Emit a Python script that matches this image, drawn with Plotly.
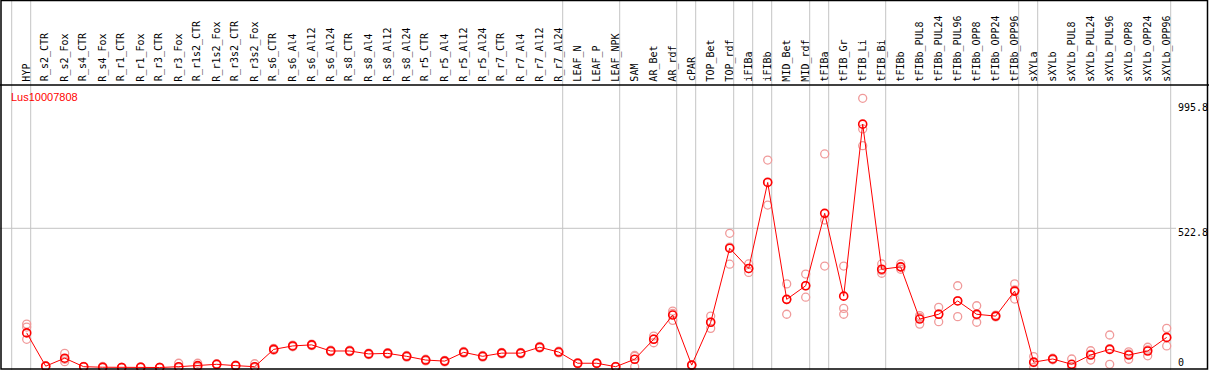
import plotly.graph_objects as go

categories = [
    "HYP", "R_s2_CTR", "R_s2_Fox", "R_s4_CTR", "R_s4_Fox", "R_r1_CTR", "R_r1_Fox",
    "R_r3_CTR", "R_r3_Fox", "R_r1s2_CTR", "R_r1s2_Fox", "R_r3s2_CTR", "R_r3s2_Fox",
    "R_s6_CTR", "R_s6_Al4", "R_s6_Al12", "R_s6_Al24", "R_s8_CTR", "R_s8_Al4",
    "R_s8_Al12", "R_s8_Al24", "R_r5_CTR", "R_r5_Al4", "R_r5_Al12", "R_r5_Al24",
    "R_r7_CTR", "R_r7_Al4", "R_r7_Al12", "R_r7_Al24", "LEAF_N", "LEAF_P", "LEAF_NPK",
    "SAM", "AR_Bet", "AR_rdf", "cPAR", "TOP_Bet", "TOP_rdf", "iFIBa", "iFIBb",
    "MID_Bet", "MID_rdf", "tFIBa", "tFIB_Gr", "tFIB_Li", "tFIB_Bi", "tFIBb",
    "tFIBb_PUL8", "tFIBb_PUL24", "tFIBb_PUL96", "tFIBb_OPP8", "tFIBb_OPP24",
    "tFIBb_OPP96", "sXYLa", "sXYLb", "sXYLb_PUL8", "sXYLb_PUL24", "sXYLb_PUL96",
    "sXYLb_OPP8", "sXYLb_OPP24", "sXYLb_OPP96",
]

# sizes of the tissue groups (separated by grey vertical lines)
group_sizes = [1, 28, 3, 3, 1, 2, 1, 1, 2, 1, 3, 7, 1, 7]

mean_values = [
    130, 5, 35, 3, 1, 0, 1, 0, 3, 7, 12, 7, 3,
    68, 81, 85, 62, 62, 51, 53, 42, 28, 24, 57, 42, 54, 54, 76, 58,
    16, 16, 3, 31, 106, 197, 9, 170, 448, 372, 695, 256, 307,
    579, 268, 914, 369, 378, 182, 200, 250, 200, 193, 287,
    20, 32, 12, 47, 68, 47, 62, 113,
]

rep1 = [
    163, 6, 53, 4, 4, 0, 2, 0, 16, 16, 14, 9, 14,
    72, 84, 88, 65, 65, 54, 56, 45, 31, 27, 60, 45, 57, 57, 79, 61,
    18, 17, 4, 45, 118, 212, 10, 193, 504, 389, 779, 314, 351,
    802, 381, 1011, 389, 389, 195, 226, 307, 232, 197, 314,
    41, 35, 32, 63, 122, 59, 76, 147,
]
rep2 = [
    152, 5, 31, 3, 0, 0, 1, 0, 1, 4, 12, 7, 1,
    68, 81, 85, 62, 62, 51, 53, 42, 28, 24, 57, 42, 54, 54, 76, 58,
    16, 16, 3, 42, 107, 203, 9, 170, 452, 371, 697, 255, 307,
    554, 222, 896, 364, 378, 188, 201, 251, 197, 193, 291,
    18, 32, 4, 50, 71, 51, 66, 112,
]
rep3 = [
    106, 4, 22, 2, 0, 0, 0, 0, 0, 1, 10, 5, 0,
    65, 78, 82, 59, 59, 48, 50, 39, 25, 21, 54, 39, 51, 51, 73, 55,
    14, 15, 2, 3, 93, 177, 8, 147, 388, 357, 610, 200, 264,
    381, 200, 833, 354, 369, 163, 172, 191, 170, 190, 257,
    0, 29, 0, 28, 12, 31, 44, 81,
]

tick_values = [995.8, 522.8, 0]
tick_texts = ["995.8", "522.8", "0"]
gene_name = "Lus10007808"

# ---- layout geometry (pixels) ----
W, H = 1209, 370
X0_PX, STEP_PX = 26.7, 19.0          # pixel of first category, spacing
ZERO_PX, K = 367.5, 139.2 / 522.8     # pixel of value 0, px per unit
HEADER_PX = 85

xr = [-X0_PX / STEP_PX, (W - X0_PX) / STEP_PX]
yr = [(ZERO_PX - H) / K, ZERO_PX / K]


def py(px):  # pixel from top -> paper y
    return 1 - px / H


def pxx(px):  # pixel from left -> paper x
    return px / W


xs = list(range(len(categories)))

fig = go.Figure()

# replicate points
rep_x, rep_y = [], []
for reps in (rep1, rep2, rep3):
    rep_x += xs
    rep_y += reps
fig.add_trace(go.Scatter(
    x=rep_x, y=rep_y, mode="markers",
    marker=dict(symbol="circle-open", size=8, color="#f09a9a", line=dict(width=1.3)),
    hoverinfo="skip", showlegend=False, cliponaxis=False,
))

# mean line
fig.add_trace(go.Scatter(
    x=xs, y=mean_values, mode="lines+markers",
    line=dict(color="#ff0000", width=1),
    marker=dict(symbol="circle-open", size=8, color="#ff0000", line=dict(width=1.6)),
    showlegend=False, cliponaxis=False,
))

shapes = []
grey = "#c4c4c4"
# group separator lines
off = 4 / STEP_PX
bounds = [-1]
acc = -1
for g in group_sizes:
    acc += g
    bounds.append(acc)
for b in bounds:
    shapes.append(dict(type="line", xref="x", yref="paper", x0=b + off, x1=b + off,
                       y0=0, y1=1, line=dict(color=grey, width=1), layer="below"))
# horizontal grid at middle tick
shapes.append(dict(type="line", xref="paper", yref="y", x0=0, x1=pxx(1176),
                   y0=tick_values[1], y1=tick_values[1],
                   line=dict(color=grey, width=1), layer="below"))
# header separator
shapes.append(dict(type="line", xref="paper", yref="paper", x0=0, x1=1,
                   y0=py(HEADER_PX), y1=py(HEADER_PX), line=dict(color="black", width=1.5)))
# frame
shapes.append(dict(type="rect", xref="paper", yref="paper",
                   x0=pxx(1), x1=pxx(1207.5), y0=py(369), y1=py(0.5),
                   line=dict(color="black", width=1.5)))

annotations = []
for i, c in enumerate(categories):
    annotations.append(dict(
        x=i - 0.03, y=py(HEADER_PX - 1.5), xref="x", yref="paper", text=c,
        textangle=-90, xanchor="center", yanchor="bottom", showarrow=False,
        font=dict(family="DejaVu Sans Mono", size=10, color="black"),
    ))

shifts = [-5, -4, 5.5]
for v, t, s in zip(tick_values, tick_texts, shifts):
    annotations.append(dict(
        x=pxx(1176), y=v, xref="paper", yref="y", text=t, yshift=s,
        xanchor="left", yanchor="middle", showarrow=False,
        font=dict(family="DejaVu Sans Mono", size=10, color="black"),
    ))

annotations.append(dict(
    x=pxx(9), y=py(97), xref="paper", yref="paper", text=gene_name,
    xanchor="left", yanchor="middle", showarrow=False,
    font=dict(family="Liberation Sans", size=11, color="#ff0000"),
))

fig.update_layout(
    width=W, height=H, margin=dict(l=0, r=0, t=0, b=0),
    paper_bgcolor="white", plot_bgcolor="white",
    xaxis=dict(range=xr, visible=False, fixedrange=True),
    yaxis=dict(range=yr, visible=False, fixedrange=True),
    shapes=shapes, annotations=annotations, showlegend=False,
)

fig.write_html(
    "out.html",
    config={"displayModeBar": False},
    post_script="document.body.style.margin='0px';document.body.style.overflow='hidden';",
)
